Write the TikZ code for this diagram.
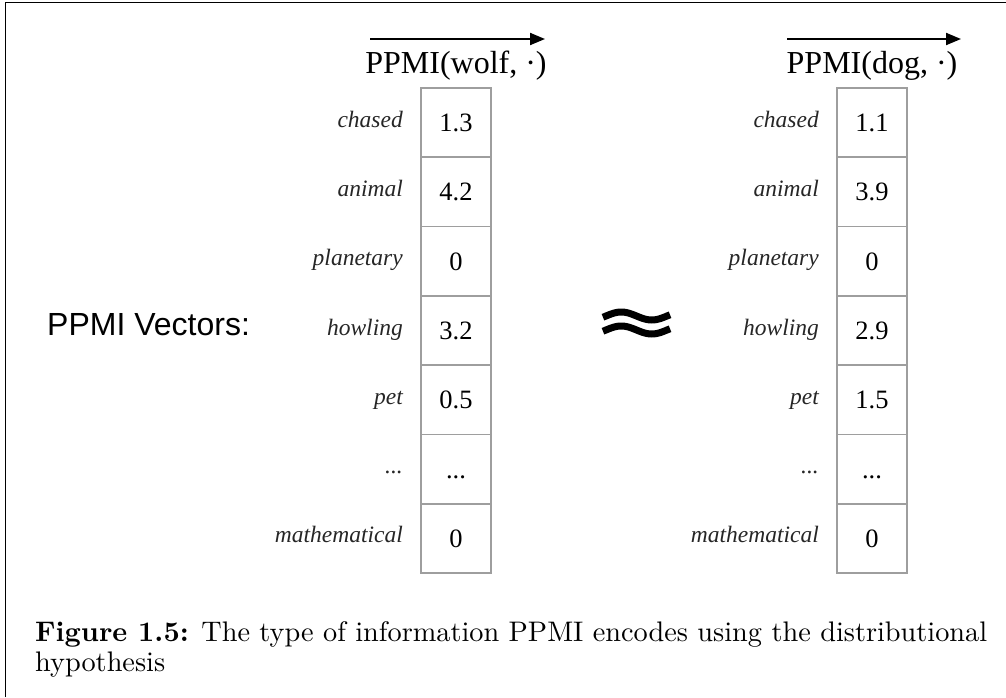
\documentclass[tikz,border=0pt]{standalone}
\usepackage{fontspec}
\newfontfamily\tnr{Liberation Serif}
\newfontfamily\arl{Liberation Sans}
\newfontfamily\lmten{lmroman10-regular}[Extension=.otf, BoldFont=lmroman10-bold]
\usetikzlibrary{arrows.meta}
\newlength\capw
\newcommand\mydots{...}
\newcommand\capline{\textbf{Figure 1.5:} The type of information PPMI encodes using the distributional}
\AtBeginDocument{\settowidth\capw{\lmten\fontsize{10pt}{12pt}\selectfont\capline}}
\begin{document}
\begin{tikzpicture}[x=1pt,y=-1pt,
  cell/.style={draw=black!38, line width=1.6pt, minimum width=70pt, minimum height=69.3pt,
    inner sep=0pt, text height=18pt, text depth=0pt, font=\tnr\fontsize{26.5}{30}\selectfont},
  lbl/.style={anchor=base east, inner sep=0pt, text=black!85, font=\tnr\itshape\fontsize{23.5}{28}\selectfont},
  hdr/.style={anchor=base, inner sep=0pt, font=\tnr\fontsize{32}{36}\selectfont},
  vecarrow/.style={-{Triangle[length=15pt,width=12pt]}, line width=2pt},
  frame/.style={line width=1.3pt},
  capfont/.style={anchor=base west, inner sep=0pt}]
\useasboundingbox (0,0) rectangle (1006,697);
\draw[frame] (5.5,697) -- (5.5,2.5) -- (1006,2.5);

% headers
\node[hdr] (hw) at (456,73) {PPMI(wolf, ·)};
\node[hdr] (hd) at (872,73) {PPMI(dog, ·)};
\coordinate (aw1) at (370,39); \coordinate (aw2) at (545,39);
\coordinate (ad1) at (787,39); \coordinate (ad2) at (961,39);
\draw[vecarrow] (aw1) -- (aw2);
\draw[vecarrow] (ad1) -- (ad2);

% cells and labels
\foreach \i/\w/\a/\b in {1/chased/1.3/1.1, 2/animal/4.2/3.9, 3/planetary/0/0, 4/howling/3.2/2.9, 5/pet/0.5/1.5, 6/\mydots/\mydots/\mydots, 7/mathematical/0/0}{
  \pgfmathsetmacro\cy{88+69.2857*(\i-0.5)}
  \node[cell] (w\i) at (456,\cy) {\a};
  \node[cell] (d\i) at (872,\cy) {\b};
  \node[lbl] (lw\i) at (403,\cy+4.5) {\w};
  \node[lbl] (ld\i) at (819,\cy+4.5) {\w};
}

% left label
\node[anchor=base west, inner sep=0pt, font=\arl\fontsize{32}{36}\selectfont] (pv) at (47,335) {PPMI Vectors:};

% approx symbol
\draw[line width=7pt] plot[domain=-0.05:1.05, samples=40, smooth] ({606+61*\x},{316-4*sin(360*\x)});
\draw[line width=7pt] plot[domain=-0.05:1.05, samples=40, smooth] ({606+61*\x},{330-4*sin(360*\x)});

% caption
\pgfmathsetmacro\capsz{10*952/\capw}
\node[capfont, font=\lmten\fontsize{\capsz pt}{30pt}\selectfont] (cap1) at (35,641) {\capline};
\node[capfont, font=\lmten\fontsize{\capsz pt}{30pt}\selectfont] (cap2) at (35,671) {hypothesis};
\end{tikzpicture}
\end{document}
